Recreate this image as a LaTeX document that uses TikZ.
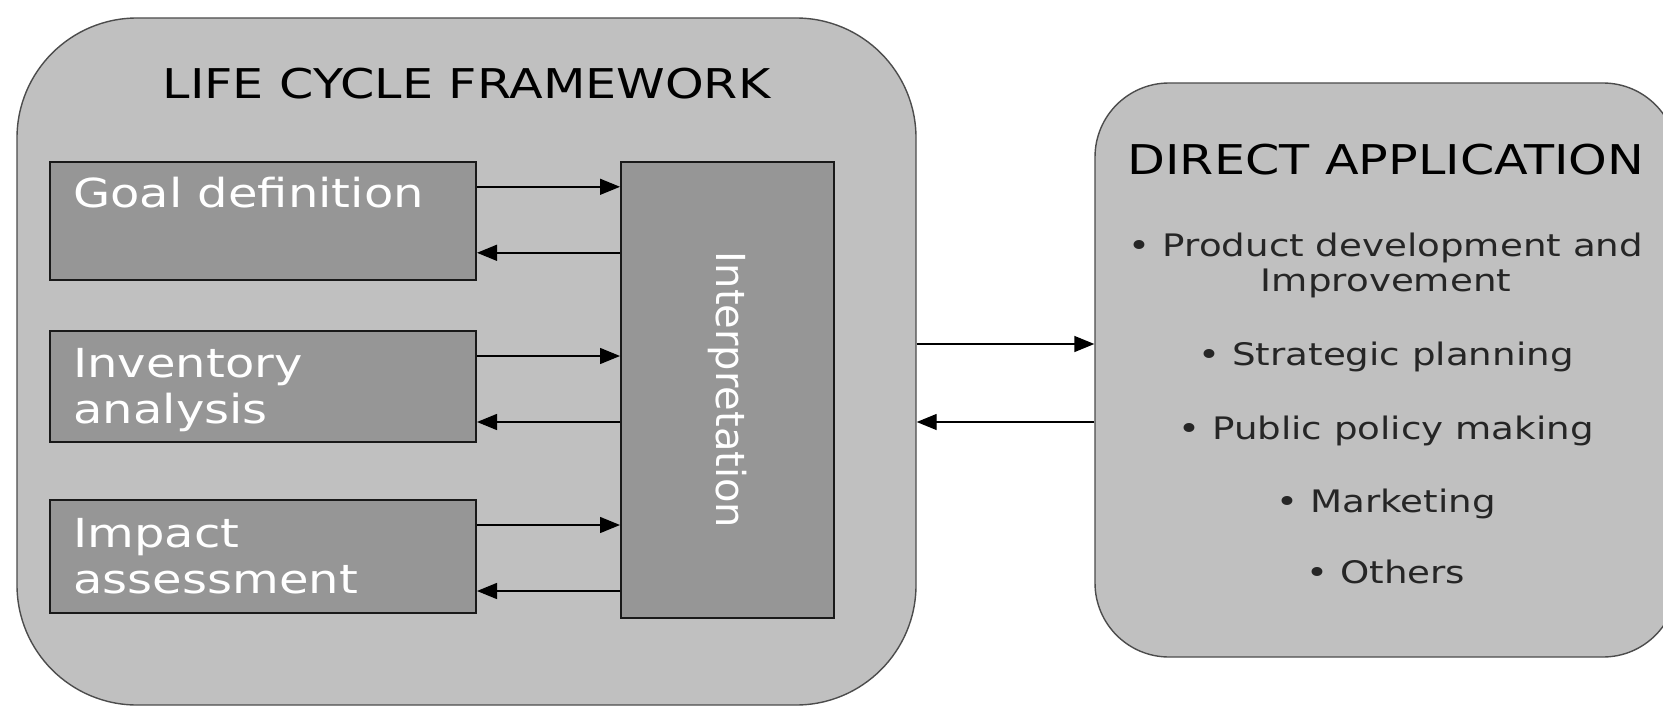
\documentclass[tikz,border=0pt]{standalone}
\usepackage{fontspec}
\setmainfont{DejaVu Sans}[FakeStretch=1.2]
\newfontfamily\plainfont{DejaVu Sans}
\usetikzlibrary{arrows.meta}

\definecolor{framefill}{HTML}{C0C0C0}
\definecolor{stagefill}{HTML}{969696}

\begin{document}
\begin{tikzpicture}[x=0.5pt,y=-0.5pt,
    >={Triangle[length=10pt,width=8pt]},
    lcbox/.style={draw=black!70,line width=0.7pt,fill=framefill,rounded corners=#1,inner sep=0pt},
    stagebox/.style={draw=black!90,line width=1pt,fill=stagefill,inner sep=0pt},
    bigtext/.style={font=\fontsize{20}{23}\selectfont,inner sep=0pt},
    listtext/.style={font=\fontsize{15.5}{17.5}\selectfont,text=black!85,inner sep=0pt,anchor=base}]
  \useasboundingbox (0,0) rectangle (1663,706);
  \draw
    (466.5,361.5) node[lcbox=60pt,minimum width=449.5pt,minimum height=343.5pt] (0){}
    (263,221) node[stagebox,minimum width=213pt,minimum height=59.2pt] (1){}
    (263,386.3) node[stagebox,minimum width=213pt,minimum height=55.3pt] (2){}
    (263,556.3) node[stagebox,minimum width=213pt,minimum height=56.3pt] (3){}
    (727.5,390) node[stagebox,minimum width=106.5pt,minimum height=228.2pt] (4){}
    (1386,370) node[lcbox=37pt,minimum width=291pt,minimum height=287pt] (5){};
  % texts (base of a two-line node is its last line)
  \draw[bigtext]
    (466.5,98) node[anchor=base,font=\fontsize{20.5}{23}\selectfont] (t0){LIFE CYCLE FRAMEWORK}
    (73,207) node[anchor=base west,text=white] (t1){Goal definition}
    (73,423) node[anchor=base west,text=white,align=left] (t2){Inventory\\analysis}
    (73,593) node[anchor=base west,text=white,align=left] (t3){Impact\\assessment}
    (4.center) node[rotate=-90,text=white,font=\plainfont\fontsize{20}{23}\selectfont] (t4){Interpretation}
    (1386,174) node[anchor=base,font=\fontsize{20.5}{23}\selectfont] (t5){DIRECT APPLICATION};
  \draw[listtext]
    (1386,256) node (l1){• Product development and}
    (1386,291) node (l2){Improvement}
    (1386,365.5) node (l3){• Strategic planning}
    (1386,439) node (l4){• Public policy making}
    (1386,512.6) node (l5){• Marketing}
    (1386,583.7) node (l6){• Others};
  \begin{scope}[->,line width=0.7pt]
    \draw ([yshift=-13pt]1.north east) -- ([yshift=-13pt]1.north east -| 4.west);
    \draw ([yshift=-46pt]1.north east -| 4.west) -- ([yshift=-46pt]1.north east);
    \draw ([yshift=-13pt]2.north east) -- ([yshift=-13pt]2.north east -| 4.west);
    \draw ([yshift=-46pt]2.north east -| 4.west) -- ([yshift=-46pt]2.north east);
    \draw ([yshift=-13pt]3.north east) -- ([yshift=-13pt]3.north east -| 4.west);
    \draw ([yshift=-46pt]3.north east -| 4.west) -- ([yshift=-46pt]3.north east);
    \draw ([yshift=13pt]5.west -| 0.east) -- ([yshift=13pt]5.west);
    \draw ([yshift=-26pt]5.west) -- ([yshift=-26pt]5.west -| 0.east);
  \end{scope}
\end{tikzpicture}
\end{document}
